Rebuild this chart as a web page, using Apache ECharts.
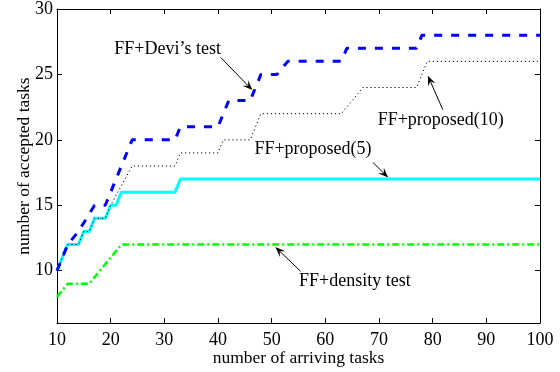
<!DOCTYPE html>
<html>
<head>
<meta charset="utf-8">
<script src="https://cdn.jsdelivr.net/npm/echarts@6/dist/echarts.min.js"></script>
<style>
  html, body { margin: 0; padding: 0; background: #fff; }
  #main { width: 560px; height: 372px; }
</style>
</head>
<body>
<div id="main"></div>
<script>
// 曲线数据 (x = number of arriving tasks, y = number of accepted tasks)
var deviPts = [[10,10],[12,12],[14,13],[17,15],[19,15],[24,20],[32,20],[33,21],[40,21],[42,23],
               [46,23],[48,25],[51,25],[53,26],[63,26],[64,27],[77,27],[78,28],[100,28]];
var prop10Pts = [[10,10],[12,12],[14,12],[15,13],[16,13],[17,14],[19,14],[20,15],[24,18],[32,18],
                 [33,19],[40,19],[41,20],[46,20],[48,22],[63,22],[67,24],[77,24],[79,26],[100,26]];
var prop5Pts = [[10,10],[12,12],[14,12],[15,13],[16,13],[17,14],[19,14],[20,15],[21,15],[22,16],
                [32,16],[33,17],[100,17]];
var densityPts = [[10,8],[12,9],[16,9],[22,12],[100,12]];

var xTicks = [10, 20, 30, 40, 50, 60, 70, 80, 90, 100];
var yTicks = [10, 15, 20, 25, 30];

// 标注: 文字位置 + 箭头 (起点 -> 终点), 数据坐标
var notes = [
    { text: 'FF+Devi\u2019s test',  at: [30.6, 26.9], from: [40.5, 26.3], to: [46.4, 23.8] },
    { text: 'FF+proposed(10)',      at: [81.5, 21.5], from: [81.9, 22.3], to: [79.1, 24.9] },
    { text: 'FF+proposed(5)',       at: [57.7, 19.25], from: [68.9, 18.26], to: [71.7, 17.12] },
    { text: 'FF+density test',      at: [65.5, 9.2],  from: [55.4, 9.95], to: [50.7, 11.8] }
];

var FONT = 'Liberation Serif';

var chart = echarts.init(document.getElementById('main'));

var nameTxt = { fontFamily: FONT, fontSize: 17.5, color: '#000' };
var blackLine = { show: true, lineStyle: { color: '#000', width: 1 } };

var option = {
    animation: false,
    backgroundColor: '#fff',
    grid: { left: 57, right: 20, top: 8, bottom: 47 },
    xAxis: [
        {
            type: 'value', min: 10, max: 100, interval: 10,
            name: 'number of arriving tasks', nameLocation: 'middle', nameGap: 26,
            nameMoveOverlap: false,
            nameTextStyle: nameTxt,
            axisLine: blackLine,
            axisTick: { show: true, inside: true, length: 5, lineStyle: { color: '#000' } },
            axisLabel: { fontFamily: FONT, fontSize: 18, color: '#000', margin: 8,
                         showMinLabel: true, showMaxLabel: true },
            splitLine: { show: false }
        },
        {
            type: 'value', position: 'top', min: 10, max: 100, interval: 10,
            axisLine: blackLine,
            axisTick: { show: true, inside: true, length: 5, lineStyle: { color: '#000' } },
            axisLabel: { show: false },
            splitLine: { show: false }
        }
    ],
    yAxis: [
        {
            type: 'value', min: 6, max: 30,
            name: 'number of accepted tasks', nameLocation: 'middle', nameGap: 24,
            nameMoveOverlap: false,
            nameTextStyle: nameTxt,
            axisLine: blackLine,
            axisTick: { show: true, inside: true, length: 5, customValues: yTicks, lineStyle: { color: '#000' } },
            axisLabel: { fontFamily: FONT, fontSize: 18, color: '#000', margin: 4, customValues: yTicks },
            splitLine: { show: false }
        },
        {
            type: 'value', position: 'right', min: 6, max: 30,
            axisLine: blackLine,
            axisTick: { show: true, inside: true, length: 5, customValues: yTicks, lineStyle: { color: '#000' } },
            axisLabel: { show: false, customValues: yTicks },
            splitLine: { show: false }
        }
    ],
    series: [
        {
            name: 'FF+proposed(5)', type: 'line', data: prop5Pts, symbol: 'none', z: 2,
            lineStyle: { color: '#00ffff', width: 3 }
        },
        {
            name: 'FF+density test', type: 'line', data: densityPts, symbol: 'none', z: 3,
            lineStyle: { color: '#00ff00', width: 2.5, type: [7, 3, 2, 3] }
        },
        {
            name: 'FF+proposed(10)', type: 'line', data: prop10Pts, symbol: 'none', z: 4,
            lineStyle: { color: '#000', width: 1, type: [1.2, 2.8] }
        },
        {
            name: 'FF+Devi\u2019s test', type: 'line', data: deviPts, symbol: 'none', z: 5,
            lineStyle: { color: '#0000ff', width: 3, type: [8, 9] }
        }
    ]
};
chart.setOption(option);

// 画标注文字和箭头
function drawNotes() {
    var els = [];
    notes.forEach(function(n) {
        var p = chart.convertToPixel({ gridIndex: 0 }, n.at);
        var a = chart.convertToPixel({ gridIndex: 0 }, n.from);
        var b = chart.convertToPixel({ gridIndex: 0 }, n.to);
        els.push({
            type: 'text', x: p[0], y: p[1], z: 10,
            style: { text: n.text, font: '18px "' + FONT + '"', fill: '#000',
                     align: 'center', verticalAlign: 'middle',
                     textAlign: 'center', textVerticalAlign: 'middle' }
        });
        var dx = b[0] - a[0], dy = b[1] - a[1];
        var len = Math.sqrt(dx * dx + dy * dy);
        var ux = dx / len, uy = dy / len, nx = -uy, ny = ux;
        var L = 10, W = 4;
        var bx = b[0] - ux * L, by = b[1] - uy * L;
        var mx = b[0] - ux * L * 0.6, my = b[1] - uy * L * 0.6;
        els.push({
            type: 'line', z: 10,
            shape: { x1: a[0], y1: a[1], x2: mx, y2: my },
            style: { stroke: '#000', lineWidth: 1 }
        });
        els.push({
            type: 'polygon', z: 10,
            shape: { points: [[b[0], b[1]], [bx + nx * W, by + ny * W], [mx, my], [bx - nx * W, by - ny * W]] },
            style: { fill: '#000' }
        });
    });
    chart.setOption({ graphic: els });
}
drawNotes();
</script>
</body>
</html>
